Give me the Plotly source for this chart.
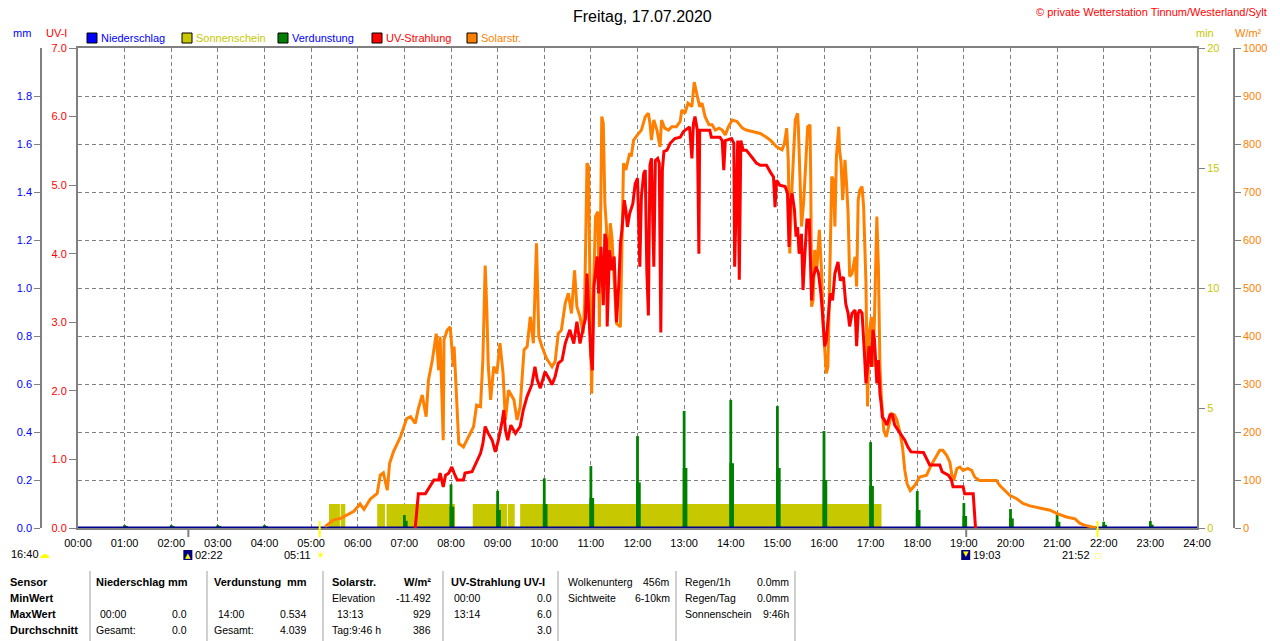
import plotly.graph_objects as go

# ---------------- data ----------------
solar_times = [
    "05:18", "05:29", "05:38", "05:46", "05:55", "06:03", "06:08", "06:16", "06:25", "06:29",
    "06:33", "06:38", "06:41", "06:46", "06:55", "07:03", "07:08", "07:14", "07:18", "07:23",
    "07:28", "07:31", "07:36", "07:41", "07:44", "07:46", "07:50", "07:51", "07:55", "07:59",
    "08:03", "08:04", "08:07", "08:10", "08:16", "08:23", "08:29", "08:33", "08:38", "08:41",
    "08:44", "08:46", "08:48", "08:51", "08:55", "08:59", "09:03", "09:07", "09:10", "09:14",
    "09:21", "09:25", "09:29", "09:34", "09:38", "09:42", "09:46", "09:50", "09:53", "09:57",
    "10:03", "10:10", "10:14", "10:18", "10:22", "10:27", "10:31", "10:35", "10:39", "10:42",
    "10:46", "10:50", "10:52", "10:55", "10:57", "10:59", "11:00", "11:01", "11:03", "11:06",
    "11:09", "11:11", "11:14", "11:16", "11:18", "11:20", "11:22", "11:25", "11:27", "11:30",
    "11:33", "11:38", "11:40", "11:42", "11:45", "11:50", "11:52", "11:55", "12:00", "12:05",
    "12:10", "12:14", "12:16", "12:18", "12:21", "12:25", "12:29", "12:31", "12:35", "12:40",
    "12:44", "12:50", "12:55", "12:57", "13:01", "13:05", "13:10", "13:13", "13:17", "13:20",
    "13:23", "13:27", "13:32", "13:36", "13:40", "13:45", "13:49", "13:53", "13:57", "14:02",
    "14:08", "14:15", "14:20", "14:29", "14:38", "14:45", "14:51", "14:59", "15:06", "15:09",
    "15:12", "15:14", "15:16", "15:18", "15:20", "15:23", "15:26", "15:27", "15:30", "15:31",
    "15:34", "15:37", "15:39", "15:42", "15:43", "15:44", "15:46", "15:48", "15:51", "15:54",
    "15:57", "15:59", "16:01", "16:03", "16:05", "16:07", "16:10", "16:12", "16:14", "16:16",
    "16:19", "16:20", "16:22", "16:24", "16:27", "16:29", "16:31", "16:33", "16:36", "16:40",
    "16:42", "16:44", "16:46", "16:49", "16:51", "16:54", "16:56", "16:58", "17:01", "17:03",
    "17:05", "17:08", "17:10", "17:12", "17:14", "17:17", "17:20", "17:23", "17:27", "17:31",
    "17:34", "17:38", "17:41", "17:44", "17:47", "17:51", "17:57", "18:03", "18:12", "18:18",
    "18:25", "18:29", "18:33", "18:38", "18:42", "18:45", "18:47", "18:51", "18:55", "18:59",
    "19:05", "19:10", "19:14", "19:20", "19:33", "19:42", "19:46", "19:53", "19:59", "20:08",
    "20:16", "20:25", "20:38", "20:51", "21:00", "21:12", "21:23", "21:29", "21:35", "21:42",
    "21:50",
]
solar_wm2 = [
    3, 17, 20, 27, 35, 50, 39, 60, 72, 110,
    115, 79, 135, 159, 190, 228, 232, 218, 249, 277,
    232, 308, 350, 405, 329, 399, 183, 392, 412, 419,
    336, 378, 267, 176, 169, 190, 211, 256, 253, 350,
    547, 460, 336, 267, 336, 322, 385, 322, 225, 287,
    267, 225, 253, 371, 378, 440, 385, 593, 399, 378,
    353, 336, 347, 405, 412, 468, 489, 447, 537, 461,
    440, 405, 468, 760, 753, 475, 405, 280, 475, 649,
    659, 419, 857, 843, 677, 628, 510, 635, 607, 503,
    426, 419, 642, 760, 746, 781, 774, 808, 819, 829,
    857, 864, 843, 808, 850, 829, 794, 850, 833, 829,
    836, 836, 847, 871, 864, 885, 878, 929, 899, 878,
    885, 857, 840, 840, 829, 833, 829, 819, 836, 850,
    847, 833, 829, 826, 822, 815, 808, 794, 788, 801,
    833, 767, 572, 683, 753, 850, 864, 836, 683, 628,
    683, 788, 836, 840, 718, 461, 475, 579, 544, 621,
    530, 419, 364, 322, 336, 475, 732, 725, 628, 774,
    836, 788, 760, 683, 767, 718, 656, 524, 530, 565,
    503, 683, 704, 711, 669, 510, 253, 405, 440, 336,
    440, 649, 544, 336, 267, 203, 190, 210, 238, 235,
    224, 197, 169, 120, 92, 78, 89, 106, 110, 131,
    151, 162, 162, 151, 137, 106, 99, 124, 127, 120,
    124, 120, 106, 99, 99, 99, 89, 78, 68, 61,
    51, 46, 42, 37, 30, 23, 19, 10, 6, 3,
    0,
]

uv_times = [
    "07:14", "07:16", "07:18", "07:27", "07:31", "07:38", "07:44", "07:46", "07:50", "07:53",
    "07:57", "08:01", "08:04", "08:08", "08:16", "08:18", "08:27", "08:31", "08:38", "08:41",
    "08:44", "08:48", "08:53", "08:57", "09:01", "09:06", "09:08", "09:10", "09:13", "09:17",
    "09:23", "09:29", "09:33", "09:38", "09:44", "09:48", "09:51", "09:55", "10:01", "10:06",
    "10:10", "10:14", "10:18", "10:23", "10:27", "10:33", "10:38", "10:42", "10:46", "10:51",
    "10:53", "10:55", "10:57", "11:00", "11:02", "11:04", "11:08", "11:10", "11:13", "11:16",
    "11:18", "11:20", "11:21", "11:24", "11:27", "11:30", "11:33", "11:36", "11:38", "11:40",
    "11:43", "11:45", "11:47", "11:50", "11:54", "11:57", "12:00", "12:03", "12:05", "12:08",
    "12:10", "12:12", "12:14", "12:16", "12:18", "12:21", "12:23", "12:26", "12:28", "12:30",
    "12:32", "12:34", "12:38", "12:42", "12:48", "12:55", "12:59", "13:04", "13:07", "13:10",
    "13:12", "13:14", "13:17", "13:19", "13:20", "13:33", "13:35", "13:46", "13:49", "13:51",
    "13:53", "14:01", "14:04", "14:05", "14:07", "14:09", "14:11", "14:13", "14:16", "14:20",
    "14:27", "14:33", "14:38", "14:46", "14:51", "14:55", "14:57", "14:59", "15:03", "15:10",
    "15:13", "15:15", "15:17", "15:19", "15:22", "15:24", "15:26", "15:28", "15:31", "15:33",
    "15:35", "15:38", "15:41", "15:43", "15:44", "15:46", "15:50", "15:53", "15:56", "15:58",
    "16:01", "16:03", "16:06", "16:08", "16:11", "16:14", "16:18", "16:21", "16:25", "16:28",
    "16:31", "16:33", "16:36", "16:40", "16:42", "16:44", "16:46", "16:49", "16:52", "16:54",
    "16:56", "16:58", "17:01", "17:03", "17:05", "17:08", "17:10", "17:12", "17:14", "17:15",
    "17:18", "17:21", "17:25", "17:28", "17:31", "17:35", "17:40", "17:44", "17:48", "17:52",
    "18:08", "18:12", "18:16", "18:29", "18:32", "18:40", "18:44", "18:46", "18:59", "19:01",
    "19:12", "19:15",
]
uv_index = [
    0.00, 0.31, 0.50, 0.50, 0.58, 0.70, 0.70, 0.80, 0.60, 0.77,
    0.80, 0.89, 0.80, 0.70, 0.70, 0.80, 0.82, 0.92, 1.09, 1.23,
    1.48, 1.38, 1.28, 1.11, 1.28, 1.57, 1.72, 1.43, 1.28, 1.50,
    1.38, 1.48, 1.72, 1.92, 2.09, 2.35, 2.16, 2.04, 2.28, 2.18,
    2.09, 2.21, 2.40, 2.45, 2.69, 2.89, 2.69, 3.01, 2.69, 2.96,
    3.05, 3.71, 3.13, 2.50, 2.30, 3.52, 3.96, 3.42, 4.10, 3.25,
    4.29, 4.20, 2.94, 4.05, 3.76, 3.96, 3.00, 3.57, 4.15, 4.35,
    4.78, 4.64, 4.39, 4.59, 4.73, 5.02, 5.10, 3.81, 4.83, 5.17,
    5.22, 3.76, 3.10, 5.29, 5.39, 3.81, 5.36, 5.39, 5.32, 2.85,
    5.22, 5.49, 5.51, 5.61, 5.68, 5.70, 5.78, 5.83, 5.85, 5.39,
    5.90, 6.00, 5.80, 4.00, 5.80, 5.80, 5.70, 5.70, 5.65, 5.22,
    5.65, 5.68, 5.61, 3.81, 4.73, 5.65, 3.62, 5.65, 5.51, 5.51,
    5.41, 5.32, 5.29, 5.29, 5.19, 5.12, 4.68, 5.07, 5.00, 4.98,
    4.88, 4.10, 4.78, 4.88, 4.64, 4.25, 4.39, 4.00, 4.29, 3.47,
    3.91, 4.49, 4.49, 3.81, 3.32, 3.66, 3.81, 3.71, 3.42, 3.13,
    2.65, 2.74, 3.18, 3.42, 3.32, 3.71, 3.88, 3.61, 3.66, 3.27,
    3.13, 2.94, 3.13, 3.18, 2.65, 3.13, 3.18, 3.13, 2.55, 2.11,
    2.35, 2.65, 2.35, 2.89, 2.74, 2.11, 2.45, 1.96, 1.77, 1.62,
    1.57, 1.50, 1.65, 1.65, 1.50, 1.43, 1.33, 1.28, 1.18, 1.11,
    1.10, 1.01, 0.92, 0.92, 0.82, 0.77, 0.70, 0.60, 0.60, 0.50,
    0.50, 0.00,
]

evap_hours = ["01:00", "02:00", "03:00", "04:00", "07:00", "08:00", "09:00", "10:00", "11:00",
              "12:00", "13:00", "14:00", "15:00", "16:00", "17:00", "18:00", "19:00", "20:00",
              "21:00", "22:00", "23:00"]
evap_mm = [0.012, 0.012, 0.012, 0.012, 0.054, 0.182, 0.155, 0.207, 0.258,
           0.383, 0.488, 0.534, 0.508, 0.404, 0.358, 0.154, 0.104, 0.079,
           0.054, 0.026, 0.029]
evap_mm_low = [0.006, 0.006, 0.006, 0.006, 0.030, 0.089, 0.075, 0.100, 0.125,
               0.190, 0.250, 0.270, 0.250, 0.200, 0.175, 0.075, 0.050, 0.040,
               0.026, 0.013, 0.014]

sun_start = ["05:23", "05:38", "06:25", "06:37", "08:28", "09:13", "09:29", "16:04"]
sun_end = ["05:37", "05:44", "06:35", "08:05", "09:12", "09:22", "16:00", "17:14"]
sun_min = [1, 1, 1, 1, 1, 1, 1, 1]

precip_times = ["00:00", "24:00"]
precip_mm = [0.0, 0.0]

x_ticks = list(range(25))
x_tick_labels = ["%02d:00" % h for h in x_ticks]
uv_ticks = [0, 1, 2, 3, 4, 5, 6, 7]
mm_ticks = [0.0, 0.2, 0.4, 0.6, 0.8, 1.0, 1.2, 1.4, 1.6, 1.8]
min_ticks = [0, 5, 10, 15, 20]
wm2_ticks = [0, 100, 200, 300, 400, 500, 600, 700, 800, 900, 1000]

moon_times = ["02:22", "19:03"]
sunrise_time = "05:11"
sunset_time = "21:52"
cloud_time_label = "16:40"

table_rows = [
    # (text, column-left-or-right, px, row, bold)
    ("Sensor", "L", 8, 0, True), ("MinWert", "L", 8, 1, True),
    ("MaxWert", "L", 8, 2, True), ("Durchschnitt", "L", 8, 3, True),
    ("Niederschlag", "L", 94, 0, True), ("mm", "R", 190, 0, True),
    ("00:00", "L", 98, 2, False), ("0.0", "R", 189, 2, False),
    ("Gesamt:", "L", 94, 3, False), ("0.0", "R", 189, 3, False),
    ("Verdunstung", "L", 212, 0, True), ("mm", "R", 309, 0, True),
    ("14:00", "L", 216, 2, False), ("0.534", "R", 308, 2, False),
    ("Gesamt:", "L", 212, 3, False), ("4.039", "R", 308, 3, False),
    ("Solarstr.", "L", 330, 0, True), ("W/m²", "R", 433, 0, True),
    ("Elevation", "L", 330, 1, False), ("-11.492", "R", 433, 1, False),
    ("13:13", "L", 335, 2, False), ("929", "R", 433, 2, False),
    ("Tag:9:46 h", "L", 330, 3, False), ("386", "R", 433, 3, False),
    ("UV-Strahlung UV-I", "L", 449, 0, True),
    ("00:00", "L", 452, 1, False), ("0.0", "R", 554, 1, False),
    ("13:14", "L", 452, 2, False), ("6.0", "R", 554, 2, False),
    ("3.0", "R", 554, 3, False),
    ("Wolkenunterg", "L", 566, 0, False), ("456m", "R", 672, 0, False),
    ("Sichtweite", "L", 566, 1, False), ("6-10km", "R", 672, 1, False),
    ("Regen/1h", "L", 683, 0, False), ("0.0mm", "R", 791, 0, False),
    ("Regen/Tag", "L", 683, 1, False), ("0.0mm", "R", 791, 1, False),
    ("Sonnenschein", "L", 683, 2, False), ("9:46h", "R", 791, 2, False),
]
table_row_y = [582, 598, 614, 630]
table_separators = [90, 207, 323, 443, 558, 676, 795]


def hrs(s):
    h, m = s.split(":")
    return int(h) + int(m) / 60.0


# ---------------- page geometry ----------------
W, H = 1280, 641
ML, MR, MT, MB = 20, 20, 48, 113
PW = W - ML - MR
PH = H - MT - MB
PLOT_L, PLOT_R = 78, 1197


def fx(px):
    return (px - ML) / PW


def fy(py):
    return 1 - (py - MT) / PH


FONT = "Liberation Sans, Arial, sans-serif"
GRAY = "#808080"
ORANGE = "#ff8000"
RED = "#ff0000"
GREEN = "#008000"
YELLOW = "#c8c800"
BLUE = "#0000ff"
NAVY = "#000090"

fig = go.Figure()

# sunshine blocks (min axis)
s0 = [hrs(s) for s in sun_start]
s1 = [hrs(s) for s in sun_end]
fig.add_trace(go.Bar(
    x=[(a + b) / 2 for a, b in zip(s0, s1)], y=sun_min, width=[b - a for a, b in zip(s0, s1)],
    marker=dict(color=YELLOW, line=dict(width=0)), yaxis="y", hoverinfo="skip"))

# evaporation (mm axis)
eh = [hrs(s) for s in evap_hours]
fig.add_trace(go.Bar(x=[h + 0.02 for h in eh], y=evap_mm_low, width=0.1,
                     marker=dict(color=GREEN, line=dict(width=0)), yaxis="y2", hoverinfo="skip"))
fig.add_trace(go.Bar(x=eh, y=evap_mm, width=0.06,
                     marker=dict(color=GREEN, line=dict(width=0)), yaxis="y2", hoverinfo="skip"))
# precipitation
fig.add_trace(go.Scatter(x=[hrs(s) for s in precip_times], y=precip_mm, mode="lines",
                         line=dict(color=NAVY, width=3), yaxis="y2", hoverinfo="skip"))
# solar radiation
fig.add_trace(go.Scatter(x=[hrs(s) for s in solar_times], y=solar_wm2, mode="lines",
                         line=dict(color=ORANGE, width=3), yaxis="y3", hoverinfo="skip"))
# UV index
fig.add_trace(go.Scatter(x=[hrs(s) for s in uv_times], y=uv_index, mode="lines",
                         line=dict(color=RED, width=3), yaxis="y4", hoverinfo="skip"))

tickfont = lambda c: dict(family=FONT, size=11, color=c)

fig.update_layout(
    template="none",
    width=W, height=H,
    margin=dict(l=ML, r=MR, t=MT, b=MB, pad=0),
    paper_bgcolor="white", plot_bgcolor="white",
    showlegend=False, barmode="overlay",
    xaxis=dict(domain=[fx(PLOT_L), fx(PLOT_R)], range=[0, 24], tickmode="array",
               tickvals=x_ticks, ticktext=x_tick_labels, tickfont=tickfont("black"),
               ticks="outside", ticklen=4, tickcolor="rgba(0,0,0,0)",
               showgrid=True, gridcolor=GRAY, gridwidth=1, griddash="4px,3px",
               showline=True, linecolor=GRAY, linewidth=2, mirror=True,
               zeroline=False, automargin=False, fixedrange=True),
    yaxis=dict(range=[0, 20], side="right", anchor="x", tickmode="array", tickvals=min_ticks,
               ticktext=[str(v) for v in min_ticks], tickfont=tickfont(YELLOW),
               ticks="outside", ticklen=6, tickcolor=GRAY,
               showline=True, linecolor=GRAY, linewidth=2, showgrid=False,
               zeroline=False, automargin=False, fixedrange=True),
    yaxis2=dict(range=[0, 2.0], overlaying="y", side="left", anchor="free", position=fx(41),
                tickmode="array", tickvals=mm_ticks, ticktext=["%.1f" % v for v in mm_ticks],
                tickfont=tickfont(BLUE), ticks="outside", ticklen=6, tickcolor=GRAY,
                showline=True, linecolor=GRAY, linewidth=1.5, showgrid=False,
                zeroline=False, automargin=False, fixedrange=True),
    yaxis3=dict(range=[0, 1000], overlaying="y", side="right", anchor="free", position=fx(1234),
                tickmode="array", tickvals=wm2_ticks, ticktext=[str(v) for v in wm2_ticks],
                tickfont=tickfont(ORANGE), ticks="outside", ticklen=6, tickcolor=GRAY,
                showline=True, linecolor=GRAY, linewidth=1.5,
                showgrid=True, gridcolor=GRAY, gridwidth=1, griddash="4px,3px",
                zeroline=False, automargin=False, fixedrange=True),
    yaxis4=dict(range=[0, 7], overlaying="y", side="left", anchor="x",
                tickmode="array", tickvals=uv_ticks, ticktext=["%.1f" % v for v in uv_ticks],
                tickfont=tickfont(RED), ticks="outside", ticklen=7, tickcolor=GRAY,
                showline=True, linecolor=GRAY, linewidth=2, showgrid=False,
                zeroline=False, automargin=False, fixedrange=True),
)

ann = []
shapes = []


def txt(s, px, py, color="black", size=11, anchor="left", family=FONT):
    ann.append(dict(text=s, x=fx(px), y=fy(py), xref="paper", yref="paper", xanchor=anchor,
                    yanchor="middle", showarrow=False, font=dict(family=family, size=size, color=color)))


# title & credit
txt("Freitag, 17.07.2020", 642, 16, size=16, anchor="center")
txt("© private Wetterstation Tinnum/Westerland/Sylt", 1269, 12, color=RED, size=11, anchor="right")

# unit labels
txt("mm", 22, 33, color=BLUE, anchor="center")
txt("UV-I", 56, 33, color=RED, anchor="center")
txt("min", 1205, 33, color=YELLOW, anchor="center")
txt("W/m²", 1248, 33, color=ORANGE, anchor="center")

# legend
legend_items = [("Niederschlag", BLUE, BLUE, 87), ("Sonnenschein", YELLOW, YELLOW, 182),
                ("Verdunstung", GREEN, BLUE, 278), ("UV-Strahlung", RED, RED, 372),
                ("Solarstr.", ORANGE, ORANGE, 467)]
for name, box, tcol, px in legend_items:
    shapes.append(dict(type="rect", xref="paper", yref="paper", x0=fx(px), x1=fx(px + 10),
                       y0=fy(43), y1=fy(33), fillcolor=box, line=dict(color="black", width=1)))
    txt(name, px + 12, 38, color=tcol, size=11)

EV_Y = 555
# sunrise / sunset / moon markers
for t in [sunrise_time, sunset_time]:
    shapes.append(dict(type="line", xref="x", yref="paper", x0=hrs(t), x1=hrs(t),
                       y0=fy(521), y1=fy(537), line=dict(color="#ffff00", width=2)))
for t in moon_times:
    shapes.append(dict(type="line", xref="x", yref="paper", x0=hrs(t), x1=hrs(t),
                       y0=fy(529), y1=fy(537), line=dict(color=GRAY, width=2)))
    shapes.append(dict(type="rect", xref="x", yref="paper", xsizemode="pixel", xanchor=hrs(t),
                       x0=-5, x1=4, y0=fy(EV_Y + 5), y1=fy(EV_Y - 5), fillcolor="#000080",
                       line=dict(width=0)))
    ann.append(dict(text=t, x=hrs(t), xshift=5, y=fy(EV_Y), xref="x", yref="paper",
                    xanchor="left", yanchor="middle", showarrow=False, font=tickfont("black")))
ann.append(dict(text="▲", x=hrs(moon_times[0]), xshift=0, y=fy(EV_Y + 1), xref="x", yref="paper",
                xanchor="center", yanchor="middle", showarrow=False,
                font=dict(family="DejaVu Sans", size=7, color="#ffff00")))
ann.append(dict(text="▼", x=hrs(moon_times[1]), xshift=0, y=fy(EV_Y - 1), xref="x", yref="paper",
                xanchor="center", yanchor="middle", showarrow=False,
                font=dict(family="DejaVu Sans", size=7, color="#ffff00")))
ann.append(dict(text=sunrise_time, x=hrs(sunrise_time), xshift=-7, y=fy(EV_Y), xref="x", yref="paper",
                xanchor="right", yanchor="middle", showarrow=False, font=tickfont("black")))
ann.append(dict(text="☀", x=hrs(sunrise_time), xshift=1, y=fy(EV_Y), xref="x", yref="paper",
                xanchor="center", yanchor="middle", showarrow=False,
                font=dict(family="DejaVu Sans", size=11, color="#ffff00")))
ann.append(dict(text=sunset_time, x=hrs(sunset_time), xshift=-6, y=fy(EV_Y), xref="x", yref="paper",
                xanchor="right", yanchor="middle", showarrow=False, font=tickfont("black")))
ann.append(dict(text="□", x=hrs(sunset_time), xshift=1, y=fy(EV_Y + 1), xref="x", yref="paper",
                xanchor="center", yanchor="middle", showarrow=False,
                font=dict(family="DejaVu Sans", size=7, color="#ffff00")))
txt(cloud_time_label, 9, EV_Y - 1)
txt("☁", 44, EV_Y - 1, color="#ffff00", size=11, anchor="center", family="DejaVu Sans")

# table
for sx in table_separators:
    shapes.append(dict(type="line", xref="paper", yref="paper", x0=fx(sx), x1=fx(sx),
                       y0=fy(571), y1=fy(641), line=dict(color="#a0a0a0", width=1)))
for text, side, px, row, bold in table_rows:
    anchor = "left" if side == "L" else "right"
    if bold:
        txt("<b>%s</b>" % text, px, table_row_y[row], size=11, anchor=anchor)
    else:
        txt(text, px, table_row_y[row], size=10.5, anchor=anchor)

fig.update_layout(annotations=ann, shapes=shapes)
fig.write_html("out.html", config={"displayModeBar": False},
               post_script="document.body.style.margin='0';document.body.style.overflow='hidden';")
